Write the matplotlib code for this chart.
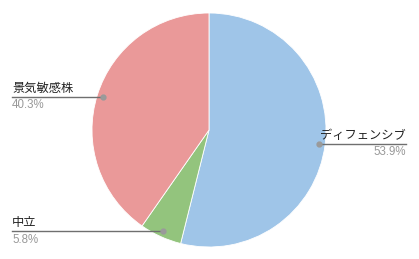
import numpy as np
import matplotlib
matplotlib.use("Agg")
import matplotlib.pyplot as plt

labels = ['ディフェンシブ', '中立', '景気敏感株']
values = [53.9, 5.8, 40.3]
colors = ['#9fc5e8', '#93c47d', '#ea9999']

plt.rcParams['font.family'] = ['Noto Sans CJK JP', 'DejaVu Sans']

W, H = 419, 259
fig = plt.figure(figsize=(W / 100, H / 100), dpi=100)
ax = fig.add_axes([0, 0, 1, 1])

cx, cy, r = 209, H - 130, 117
ax.pie(values, colors=colors, startangle=90, counterclock=False,
       center=(cx, cy), radius=r, frame=True,
       wedgeprops=dict(edgecolor='white', linewidth=0.6))
ax.set_xlim(0, W)
ax.set_ylim(0, H)
ax.set_aspect('equal')
ax.axis('off')

total = sum(values)
start = 90.0
for lab, v in zip(labels, values):
    ang = start - v / total * 360 / 2
    start -= v / total * 360
    a = np.deg2rad(ang)
    px = cx + 0.95 * r * np.cos(a)
    py = cy + 0.95 * r * np.sin(a)
    if px > cx:
        x0, x1, tx, ha = px, 406, 406, 'right'
    else:
        x0, x1, tx, ha = 12, px, 12, 'left'
    ax.plot([x0, x1], [py, py], color='#6f6f6f', lw=1.0, zorder=5)
    ax.plot(px, py, 'o', color='#9a9a9a', ms=3.5, zorder=6)
    ax.text(tx, py + 8.5, lab, ha=ha, va='center', fontsize=8.8, color='#222222')
    ax.text(tx, py - 8.5, f'{v:.1f}%', ha=ha, va='center', fontsize=8.3,
            color='#999999', family=['Liberation Sans', 'DejaVu Sans'])

fig.savefig('out.png', dpi=100)
